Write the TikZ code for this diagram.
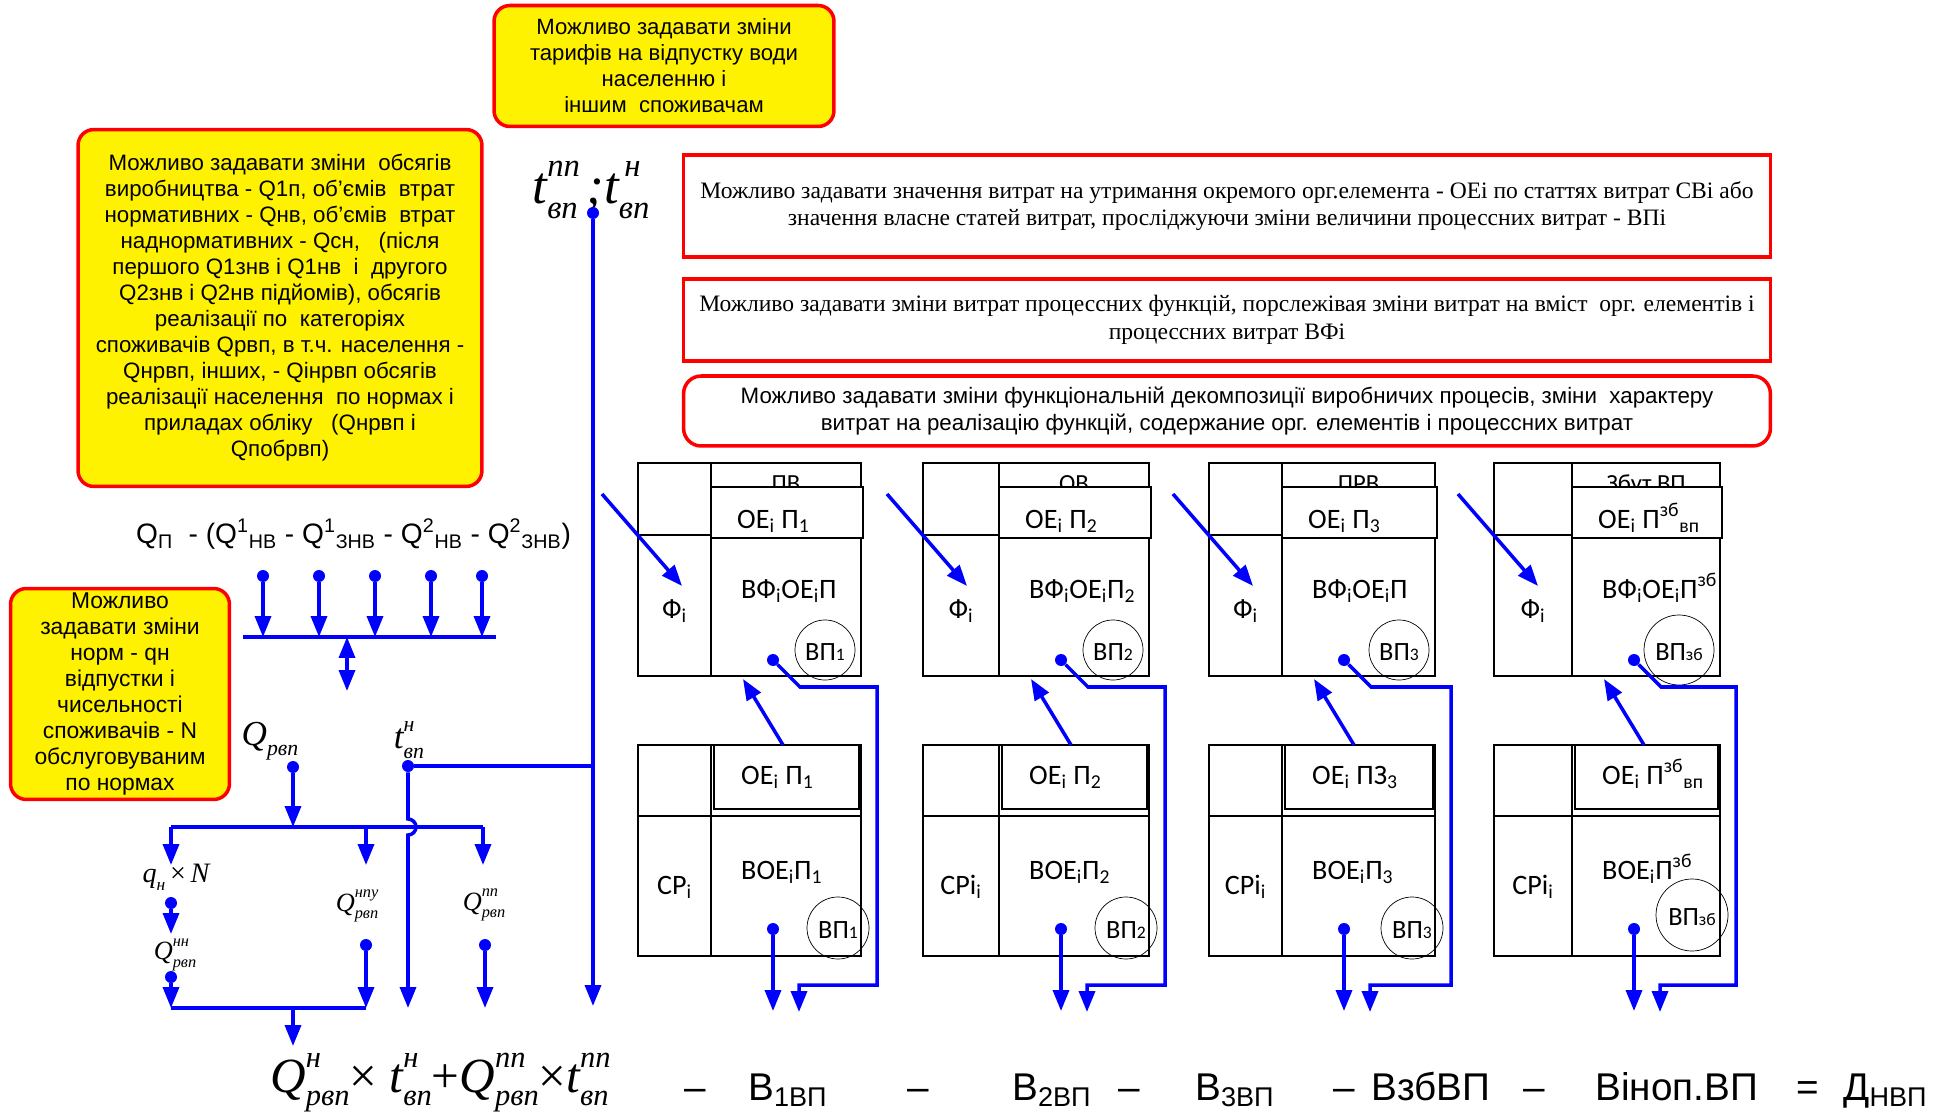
\documentclass[tikz,border=0pt]{standalone}
\usepackage{fontspec}
\usepackage{graphicx}
\setmainfont{Liberation Sans}
\newfontfamily\serifrm{Liberation Serif}
\newfontfamily\calfont{Carlito}
\usetikzlibrary{arrows.meta}

% letter with a raised and a lowered index, the upper one overprinted
\newcommand{\supsub}[3]{#1\rlap{\raisebox{0.5em}{\scalebox{0.62}{#2}}}\raisebox{-0.28em}{\scalebox{0.62}{#3}}}
\newcommand{\idx}[1]{{\fontsize{10}{10}\selectfont #1}}

\tikzset{
  yellownote/.style={draw=red, line width=2pt, fill=yellow, rounded corners=9pt, align=center, inner sep=2pt},
  rednote/.style={draw=red, line width=2pt, align=center, inner sep=0pt},
  cellline/.style={black, line width=1pt},
  oebox/.style={draw=black, fill=white, line width=1.3pt},
  wire/.style={blue, line width=2pt},
  flow/.style={wire, -{Triangle[length=0.42cm,width=0.32cm]}},
  twoway/.style={wire, {Triangle[length=0.42cm,width=0.32cm]}-{Triangle[length=0.42cm,width=0.32cm]}},
  bluedot/.style={circle, fill=blue, inner sep=0pt, minimum size=0.24cm},
  unitfont/.style={font=\calfont\fontsize{16}{18}\selectfont},
  mathlab/.style={font=\serifrm\itshape\fontsize{15}{15}\selectfont, inner sep=0pt},
}

\begin{document}
\begin{tikzpicture}[x=0.02cm,y=-0.02cm]
\useasboundingbox (0,0) rectangle (1946,1114);

% yellow notes
\node[yellownote, minimum width=6.8cm, minimum height=2.42cm, font=\fontsize{12.6}{14.8}\selectfont] (tariffs) at (664,66)
  {Можливо задавати зміни\\тарифів на відпустку води\\населенню і\\іншим~ споживачам};
\node[yellownote, minimum width=8.08cm, minimum height=7.14cm, font=\fontsize{12.7}{14.8}\selectfont] (volumes) at (280,308)
  {Можливо задавати зміни~ обсягів\\виробництва - Q1п, об'ємів~ втрат\\нормативних - Qнв, об'ємів~ втрат\\
   наднормативних - Qсн, ~ (після\\першого Q1знв і Q1нв~ і~ другого\\Q2знв і Q2нв підйомів), обсягів\\
   реалізації по~ категоріях\\споживачів Qрвп, в т.ч. населення -\\Qнрвп, інших, - Qінрвп обсягів\\
   реалізації населення~ по нормах і\\приладах обліку ~ (Qнрвп і\\Qпобрвп)};
\node[yellownote, minimum width=4.38cm, minimum height=4.22cm, font=\fontsize{13}{14.8}\selectfont] (norms) at (120,694)
  {Можливо\\задавати зміни\\норм - qн\\відпустки і\\чисельності\\споживачів - N\\обслуговуваним\\по нормах};

% red notes
\node[rednote, minimum width=21.74cm, minimum height=2.04cm, font=\serifrm\fontsize{13.4}{15.8}\selectfont] (costs) at (1227,206)
  {Можливо задавати значення витрат на утримання окремого орг.елемента - ОЕі по статтях витрат СВі або\\
   значення власне статей витрат, просліджуючи зміни величини процессних витрат - ВПі};
\node[rednote, minimum width=21.74cm, minimum height=1.64cm, font=\serifrm\fontsize{13.4}{15.8}\selectfont] (functions) at (1227,320)
  {Можливо задавати зміни витрат процессних функцій, порслежівая зміни витрат на вміст~ орг. елементів і\\
   процессних витрат ВФі};
\node[rednote, rounded corners=10pt, minimum width=21.74cm, minimum height=1.4cm, font=\fontsize{12.7}{15}\selectfont] (decomp) at (1227,411)
  {Можливо задавати зміни функціональній декомпозиції виробничих процесів, зміни~ характеру\\
   витрат на реалізацію функцій, содержание орг. елементів і процессних витрат};

% balance of volumes
\node[anchor=west, font=\fontsize{16}{18}\selectfont] (balance) at (130,534)
  {Q\textsubscript{П}~ - (Q\textsuperscript{1}\textsubscript{НВ} - Q\textsuperscript{1}\textsubscript{ЗНВ} - Q\textsuperscript{2}\textsubscript{НВ} - Q\textsuperscript{2}\textsubscript{ЗНВ})};
\foreach \x [count=\k] in {263,319,375,431,482}{
  \node[bluedot] (in\k) at (\x,576) {};
  \coordinate (bar\k) at (\x,637);
  \draw[flow] (in\k) -- (bar\k);
}
\coordinate (barL) at (243,637);
\coordinate (barR) at (496,637);
\draw[wire] (barL) -- (barR);
\coordinate (balT) at (347,637);
\coordinate (balB) at (347,691);
\draw[twoway] (balB) -- (balT);

% realisation split
\node[mathlab, font=\serifrm\itshape\fontsize{20}{20}\selectfont] (qrvp) at (270,741) {\supsub{Q}{}{рвп}};
\node[bluedot] (qd) at (293,767) {};
\coordinate (split) at (293,827);
\draw[flow] (qd) -- (split);
\coordinate (spL) at (171,827);
\coordinate (spM) at (366,827);
\coordinate (spR) at (483,827);
\coordinate (aL) at (171,865);
\coordinate (aM) at (366,865);
\coordinate (aR) at (483,865);
\draw[wire] (spL) -- (spR);
\draw[flow] (spL) -- (aL);
\draw[flow] (spM) -- (aM);
\draw[flow] (spR) -- (aR);

\node[mathlab, font=\serifrm\itshape\fontsize{16}{16}\selectfont] (qn) at (176,877) {\supsub{q}{}{н}\,{\upshape ×}\,N};
\node[bluedot] (qnd) at (171,903) {};
\coordinate (qnE) at (171,934);
\draw[flow] (qnd) -- (qnE);
\node[mathlab] (qnn) at (175,955) {\supsub{Q}{нн}{рвп}};
\node[bluedot] (qnnd) at (171,977) {};
\coordinate (sumL) at (171,1008);
\draw[flow] (qnnd) -- (sumL);
\node[mathlab] (qnpu) at (357,906) {\supsub{Q}{нпу}{рвп}};
\node[bluedot] (qnpud) at (366,945) {};
\coordinate (sumR) at (366,1008);
\draw[flow] (qnpud) -- (sumR);
\draw[wire] (sumL) -- (sumR);
\coordinate (sumM) at (293,1008);
\coordinate (sumE) at (293,1046);
\draw[flow] (sumM) -- (sumE);
\node[mathlab] (qpp) at (484,905) {\supsub{Q}{пп}{рвп}};
\node[bluedot] (qppd) at (485,945) {};
\coordinate (qppE) at (485,1008);
\draw[flow] (qppd) -- (qppE);

% tariffs
\node[mathlab, font=\serifrm\itshape\fontsize{30}{30}\selectfont] (tlab) at (591,190) {\supsub{t}{пп}{вп}\,;\supsub{t}{\,н}{вп}};
\node[bluedot] (td) at (593,213) {};
\coordinate (tE) at (593,1006);
\draw[flow] (td) -- (tE);
\node[mathlab, font=\serifrm\itshape\fontsize{20}{20}\selectfont] (tn) at (409,740) {\supsub{t}{н}{вп}};
\node[bluedot] (tnd) at (408,766) {};
\coordinate (tnJ) at (593,766);
\draw[wire] (tnd) -- (tnJ);
\coordinate (tnE) at (408,1008);
\draw[flow] (tnd) -- (408,819) arc[start angle=-90, end angle=90, radius=8] -- (tnE);

% process units
\begin{scope}[unitfont]
\foreach \L/\D/\R/\strip/\oet/\vft/\vp/\cr/\oeb/\vob/\cp/\cy [count=\i] in {
  638/711/861/ПВ/{ОЕ\textsubscript{i} П\textsubscript{1}}/{ВФ\textsubscript{i}ОЕ\textsubscript{i}П}/{ВП\idx{1}}/30/{ОЕ\textsubscript{i} П\textsubscript{1}}/{ВОЕ\textsubscript{i}П\textsubscript{1}}/{СР\textsubscript{i}}/928,
  923/999/1149/ОВ/{ОЕ\textsubscript{i} П\textsubscript{2}}/{ВФ\textsubscript{i}ОЕ\textsubscript{i}П\textsubscript{2}}/{ВП\idx{2}}/30/{ОЕ\textsubscript{i} П\textsubscript{2}}/{ВОЕ\textsubscript{i}П\textsubscript{2}}/{СРi\textsubscript{i}}/928,
  1209/1282/1435/ПРВ/{ОЕ\textsubscript{i} П\textsubscript{3}}/{ВФ\textsubscript{i}ОЕ\textsubscript{i}П}/{ВП\idx{3}}/30/{ОЕ\textsubscript{i} ПЗ\textsubscript{3}}/{ВОЕ\textsubscript{i}П\textsubscript{3}}/{СРi\textsubscript{i}}/928,
  1494/1572/1720/{Збут ВП}/{ОЕ\textsubscript{i} П\textsuperscript{зб}\textsubscript{вп}}/{ВФ\textsubscript{i}ОЕ\textsubscript{i}П\textsuperscript{зб}}/{ВП\idx{зб}}/35/{ОЕ\textsubscript{i} П\textsuperscript{зб}\textsubscript{вп}}/{ВОЕ\textsubscript{i}П\textsuperscript{зб}}/{СРi\textsubscript{i}}/915}{
  % upper block
  \draw[cellline] (\L,463) rectangle (\R,676) (\D,463) -- (\D,676) (\L,535) -- (\D,535);
  \node[anchor=base, font=\calfont\fontsize{14}{14}\selectfont] (strip\i) at ({(\D+\R)/2},491) {\strip};
  \draw[oebox] (\D,487) rectangle ({\R+2},538);
  \node[anchor=base west] (oet\i) at ({\D+20},528) {\oet};
  \node[anchor=base west] (vft\i) at ({\D+24},598) {\vft};
  \node[anchor=base] (phi\i) at ({(\L+\D)/2},618) {Ф\textsubscript{i}};
  \draw[thin] ({\R-6-\cr},650) circle (\cr);
  \node[font=\calfont\fontsize{15}{15}\selectfont] (vpt\i) at ({\R-6-\cr},652) {\vp};
  \node[bluedot] (dt\i) at ({\D+62},660) {};
  \coordinate (bend\i) at ({\D+89},687);
  \coordinate (lt\i) at ({\R+16},687);
  \coordinate (lb\i) at ({\R+16},985);
  \coordinate (le\i) at ({\D+88},1012);
  \draw[flow] (dt\i) -- (bend\i) -- (lt\i) -- (lb\i) -| (le\i);
  \coordinate (fs\i) at ({\L-36},494);
  \coordinate (fe\i) at ({\L+44},586);
  \draw[flow] (fs\i) -- (fe\i);
  % lower block
  \draw[cellline] (\L,745) rectangle (\R,956) (\D,745) -- (\D,956) (\L,816) -- (\R,816);
  \draw[oebox] ({\D+3},745) rectangle ({\R-2},809);
  \node[anchor=base west] (oeb\i) at ({\D+24},784) {\oeb};
  \node[anchor=base west] (vob\i) at ({\D+24},879) {\vob};
  \node[anchor=base] (cp\i) at ({(\L+\D)/2},894) {\cp};
  \draw[thin] ({\R+7-\cr},\cy) circle ({\cr+1});
  \node[font=\calfont\fontsize{15}{15}\selectfont] (vpb\i) at ({\R+7-\cr},{\cy+2}) {\vp};
  \node[bluedot] (db\i) at ({\D+62},929) {};
  \coordinate (bo\i) at ({\D+62},1011);
  \draw[flow] (db\i) -- (bo\i);
  \coordinate (us\i) at ({\D+72},745);
  \coordinate (ue\i) at ({\D+32},679);
  \draw[flow] (us\i) -- (ue\i);
}
\end{scope}

% result
\node[anchor=base west, inner sep=0pt, font=\serifrm\itshape\fontsize{28}{28}\selectfont] (income) at (270,1092)
  {\supsub{Q}{н}{рвп}{\upshape ×}\ \supsub{t}{н}{вп}{\upshape +}\supsub{Q}{пп}{рвп}{\upshape ×}\supsub{t}{пп}{вп}};
\begin{scope}[font=\fontsize{22}{22}\selectfont, inner sep=0pt]
\node[anchor=base] (m1) at (695,1100) {–};
\node[anchor=base west] (b1) at (748,1100) {В\textsubscript{1ВП}};
\node[anchor=base] (m2) at (918,1100) {–};
\node[anchor=base west] (b2) at (1012,1100) {В\textsubscript{2ВП}};
\node[anchor=base] (m3) at (1129,1100) {–};
\node[anchor=base west] (b3) at (1195,1100) {В\textsubscript{3ВП}};
\node[anchor=base] (m4) at (1344,1100) {–};
\node[anchor=base west] (b4) at (1371,1100) {ВзбВП};
\node[anchor=base] (m5) at (1534,1100) {–};
\node[anchor=base west] (b5) at (1595,1100) {Віноп.ВП};
\node[anchor=base] (eq) at (1808,1100) {=};
\node[anchor=base west] (dnvp) at (1843,1100) {Д\textsubscript{НВП}};
\end{scope}
\end{tikzpicture}
\end{document}
